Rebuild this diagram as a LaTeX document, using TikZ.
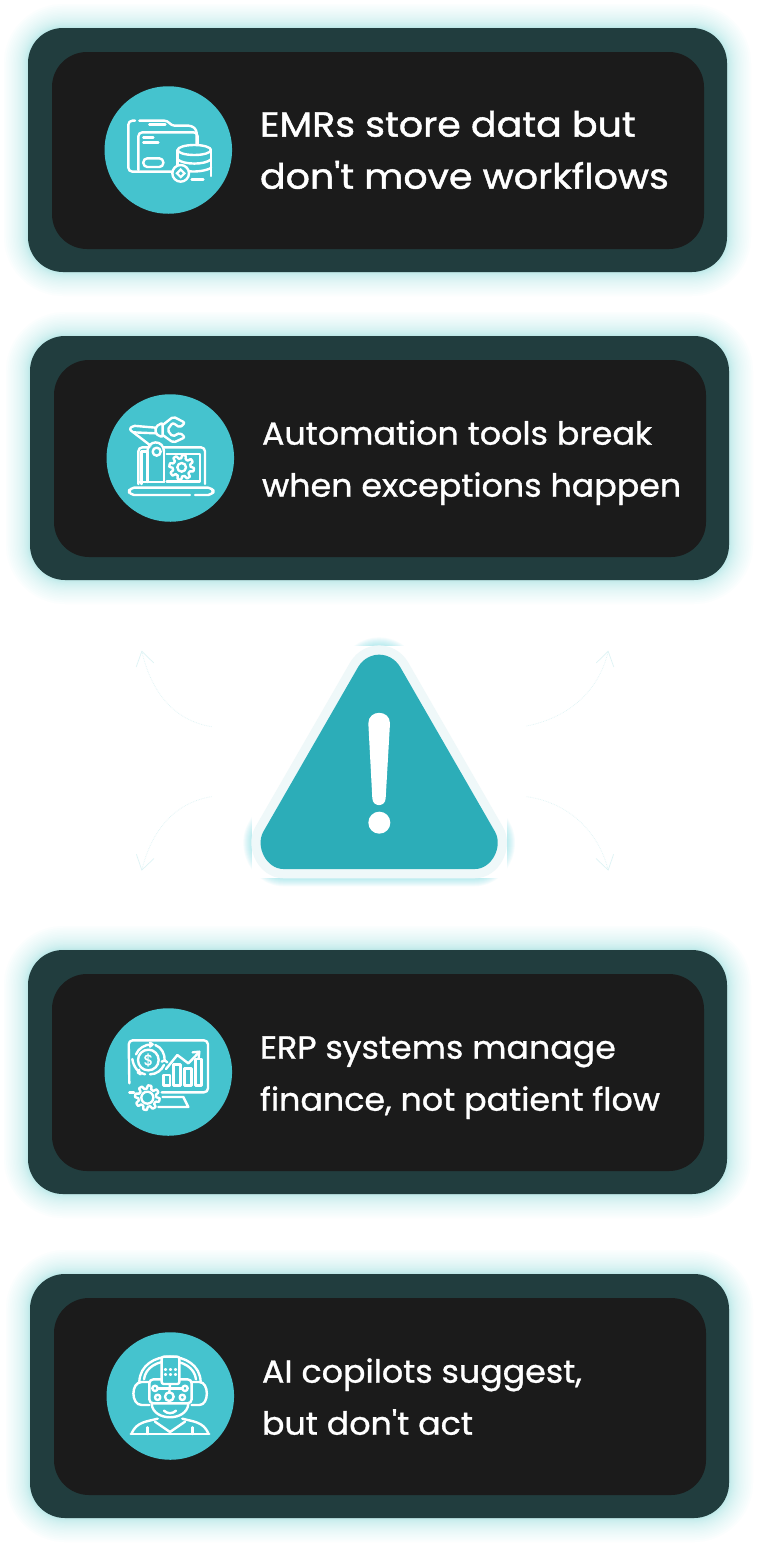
\documentclass[tikz,border=0pt]{standalone}
\usepackage{fontspec}
\usetikzlibrary{arrows.meta}
\newfontfamily\bodyfamily[FakeBold=1.0,FakeStretch=1.04]{Poppins}
\newfontfamily\leadfamily[FakeBold=1.3,FakeStretch=1.085]{Poppins}
\definecolor{outercol}{HTML}{213D3E}
\definecolor{innercol}{HTML}{1B1B1B}
\definecolor{disccol}{HTML}{45C3CE}
\definecolor{trianglecol}{HTML}{2CADB8}
\definecolor{haloedge}{HTML}{EFF8F9}
\definecolor{glowcol}{HTML}{5FD5E0}
\definecolor{ghostcol}{HTML}{DDF3F5}
\tikzset{
  outerbox/.style={rectangle,rounded corners=35pt,fill=outercol,minimum width=699pt,minimum height=244pt,inner sep=0pt,outer sep=0pt},
  innerbox/.style={rectangle,rounded corners=35pt,fill=innercol,minimum width=652pt,minimum height=197pt,inner sep=0pt,outer sep=0pt},
  disc/.style={circle,fill=disccol,minimum size=127.5pt,inner sep=0pt,outer sep=0pt},
  cardtext/.style={anchor=west,align=left,text=white,inner sep=0pt,outer sep=0pt},
  bodytype/.style={font=\bodyfamily\fontsize{32}{52}\selectfont},
  leadtype/.style={font=\leadfamily\fontsize{35}{52}\selectfont},
  glowlayer/.style={fill=glowcol,fill opacity=0.02},
  iconline/.style={draw=white,line width=2.4pt,line cap=round,line join=round},
  iconframe/.style={x=0.33333pt,y=-0.33333pt},
  ghost/.style={draw=ghostcol,line width=0.7pt,densely dotted,-{Straight Barb[length=14pt,width=18pt]}},
}
% a card: name, x offset, y offset, type style, line 1, line 2
\newcommand{\cardat}[6]{%
  \begin{scope}[shift={(#2,#3)}]
    \foreach \g in {1,...,24}{
      \pgfmathsetmacro{\off}{\g*\g/24}
      \fill[glowlayer,rounded corners=35pt+\off pt] (28-\off,28-\off) rectangle (727+\off,272+\off);
    }
    \node[outerbox] (#1outer) at (377.5,150) {};
    \node[innerbox] (#1inner) at (378,150.5) {};
    \node[disc] (#1disc) at (168.3,150) {};
    \node[cardtext,#4] (#1text) at (260,152.7) {\rule{0pt}{30pt}#5\\#6\rule[-10pt]{0pt}{10pt}};
  \end{scope}%
}
\newcommand{\gearshape}[5]{% cx cy base tooth teeth
  \draw[iconline,smooth] plot[samples=121,domain=0:360,variable=\t]
    ({#1+(#3+#4*max(-1,min(1,2.5*sin(#5*\t))))*cos(\t)},{#2+(#3+#4*max(-1,min(1,2.5*sin(#5*\t))))*sin(\t)}) -- cycle;
}
\begin{document}
\begin{tikzpicture}[x=1pt,y=-1pt]
\useasboundingbox (0,0) rectangle (759,1547);
\fill[white] (0,0) rectangle (759,1547);

\cardat{emr}{0}{0}{leadtype}{EMRs store data but}{don't move workflows}
\cardat{auto}{2}{308}{bodytype}{Automation tools break}{when exceptions happen}
\cardat{erp}{0}{922}{bodytype}{ERP systems manage}{finance, not patient flow}
\cardat{ai}{2}{1246}{bodytype}{AI copilots suggest,}{but don't act}

% ---------- folder + database icon
\begin{scope}[shift={(90,70)},iconframe]
  \draw[iconline,rounded corners=4pt] (135,152) -- (115,152) -- (115,305) -- (245,305);
  \draw[iconline,rounded corners=3pt] (148,152) -- (232,152) -- (245,167) -- (305,167) -- (320,180) -- (320,222);
  \draw[iconline] (178,163) -- (226,163);
  \draw[iconline,rounded corners=4pt] (145,300) -- (145,187) -- (323,187) -- (323,222);
  \draw[iconline] (160,202) -- (190,202) (160,218) -- (205,218);
  \draw[iconline,rounded corners=4pt] (160,265) rectangle (220,291);
  \fill[disccol] (263,240) rectangle (363,325);
  \draw[iconline] (263,240) -- (263,300) (363,240) -- (363,318);
  \draw[iconline] (313,240) ellipse [x radius=50,y radius=15];
  \draw[iconline] (263,268) .. controls (280,285) and (346,285) .. (363,268);
  \draw[iconline] (290,303) .. controls (315,307) and (346,303) .. (363,294);
  \draw[iconline] (305,328) -- (340,328);
  \draw[iconline,fill=disccol] (272,310) circle [radius=25];
  \fill[white] (272,294) -- (288,310) -- (272,326) -- (256,310) -- cycle;
  \fill[disccol] (272,304) -- (278,310) -- (272,316) -- (266,310) -- cycle;
\end{scope}

% ---------- robot arm + laptop icon
\begin{scope}[shift={(90,380)},iconframe]
  \draw[iconline,rounded corners=4pt] (145,312) -- (145,202) -- (178,202);
  \draw[iconline,rounded corners=4pt] (222,202) -- (345,202) -- (345,312);
  \draw[iconline] (155,312) -- (155,215) -- (170,215);
  \draw[iconline] (230,222) -- (330,222) -- (330,305) -- (230,305);
  \draw[iconline] (145,306) -- (222,306);
  \draw[iconline] (172,306) -- (172,215);
  \draw[iconline] (222,306) -- (222,215);
  \draw[iconline] (172,215) .. controls (172,178) and (222,178) .. (222,215);
  \draw[iconline] (200,215) circle [radius=12];
  \gearshape{275}{262}{32}{5}{8}
  \draw[iconline] (275,262) circle [radius=13];
  \draw[iconline,rounded corners=5pt] (300,345) -- (117,345) -- (117,323) -- (370,323) -- (370,345) -- (315,345);
  \draw[iconline,rounded corners=2pt] (182,197) -- (118,148) -- (128,137) -- (197,143);
  \draw[iconline] (130,157) -- (197,160);
  \draw[iconline,rounded corners=2pt] (197,140) -- (218,128) -- (218,172) -- (197,162) -- cycle;
  \draw[iconline,rounded corners=2pt] (218,135) -- (250,110) -- (285,128) -- (270,143) -- (248,128) -- (232,150) -- (248,170) -- (270,158) -- (285,172) -- (250,188) -- (218,165);
\end{scope}

% ---------- ERP monitor icon
\begin{scope}[shift={(90,995)},iconframe]
  \draw[iconline,rounded corners=4pt] (118,265) -- (116,136) -- (354,136) -- (354,292) -- (215,292);
  \draw[iconline] (118,292) -- (132,292);
  \draw[iconline] (218,306) -- (280,306) -- (295,336) -- (205,336);
  \gearshape{172}{308}{32}{5}{8}
  \draw[iconline] (172,308) circle [radius=18];
  \draw[iconline] (175,195) circle [radius=31];
  \node[text=white,font=\bodyfamily\fontsize{15}{15}\selectfont,inner sep=0pt] (erpdollar) at (175,195) {\$};
  \draw[iconline] (138,178) .. controls (145,160) and (165,148) .. (185,148);
  \draw[iconline] (196,150) .. controls (215,157) and (225,178) .. (224,196);
  \draw[iconline] (222,210) .. controls (215,225) and (200,238) .. (180,238);
  \draw[iconline] (165,238) .. controls (145,235) and (130,215) .. (127,192);
  \draw[iconline] (180,143) -- (188,148) -- (180,155);
  \draw[iconline] (215,200) -- (224,196) -- (232,202);
  \draw[iconline] (148,224) -- (143,232) -- (152,238);
  \draw[iconline] (220,240) rectangle (240,272);
  \draw[iconline] (250,208) rectangle (272,272);
  \draw[iconline] (283,220) rectangle (305,272);
  \draw[iconline] (316,192) rectangle (335,272);
  \draw[iconline] (228,222) -- (262,180) -- (295,205) -- (327,172);
  \draw[iconline] (308,172) -- (328,170) -- (326,188);
\end{scope}

% ---------- AI copilot icon
\begin{scope}[shift={(90,1320)},iconframe]
  \draw[iconline] (148,185) .. controls (152,85) and (328,85) .. (332,185);
  \draw[iconline] (162,178) .. controls (170,105) and (310,105) .. (318,178);
  \draw[iconline] (178,186) -- (155,186) .. controls (122,186) and (122,255) .. (155,255) -- (178,255);
  \draw[iconline] (305,186) -- (328,186) .. controls (358,186) and (358,255) .. (328,255) -- (305,255);
  \draw[iconline,rounded corners=4pt] (178,250) -- (178,178) -- (305,178) -- (305,250) -- cycle;
  \draw[iconline,fill=disccol,rounded corners=2pt] (215,110) rectangle (268,192);
  \draw[iconline] (225,148) -- (228,148) (240,148) -- (243,148) (255,148) -- (258,148)
                  (225,164) -- (228,164) (240,164) -- (243,164) (255,164) -- (258,164);
  \draw[iconline] (240,192) -- (238,217);
  \draw[iconline] (238,230) circle [radius=13];
  \draw[iconline] (195,205) circle [radius=8] (285,205) circle [radius=8] (203,232) circle [radius=8] (277,232) circle [radius=8];
  \draw[iconline] (205,205) -- (275,205);
  \draw[iconline] (185,252) .. controls (190,305) and (290,305) .. (295,252);
  \draw[iconline] (222,272) .. controls (232,282) and (248,282) .. (258,272);
  \draw[iconline] (122,342) -- (358,342);
  \draw[iconline] (125,340) .. controls (140,305) and (170,305) .. (203,296);
  \draw[iconline] (355,340) .. controls (340,305) and (310,305) .. (277,296);
  \draw[iconline] (195,305) -- (240,336) -- (285,305);
  \draw[iconline] (172,342) -- (172,322) (308,342) -- (308,322);
\end{scope}

% ---------- warning triangle
\begin{scope}[shift={(120,630)},iconframe]
  \def\trianglepath{(715,110) .. controls (745,62) and (810,62) .. (840,110) -- (1125,605) .. controls (1150,650) and (1115,717) .. (1065,717) -- (490,717) .. controls (440,717) and (405,650) .. (430,605) -- cycle}
  \foreach \g in {1,...,8}{
    \draw[draw=glowcol,draw opacity=0.06,line width=18.5pt+2*\g pt,line join=round] \trianglepath;
  }
  \fill[white] (395,48) rectangle (1160,745);
  \draw[draw=haloedge,fill=trianglecol,line width=18.5pt,line join=round] \trianglepath;
  \fill[trianglecol] \trianglepath;
  \fill[white] (745,280) .. controls (745,238) and (810,238) .. (810,280) -- (797,505) .. controls (796,532) and (758,532) .. (757,505) -- cycle;
  \fill[white] (778,578) circle [radius=33];
  \coordinate (gta) at (275,290);
  \coordinate (gtb) at (65,62);
  \coordinate (gtc) at (1220,288);
  \coordinate (gtd) at (1465,62);
  \coordinate (gba) at (275,500);
  \coordinate (gbb) at (65,722);
  \coordinate (gbc) at (1220,500);
  \coordinate (gbd) at (1465,722);
  \draw[ghost] (gta) .. controls (150,270) and (90,170) .. (gtb);
  \draw[ghost] (gtc) .. controls (1360,260) and (1440,170) .. (gtd);
  \draw[ghost] (gba) .. controls (150,520) and (90,620) .. (gbb);
  \draw[ghost] (gbc) .. controls (1360,520) and (1440,620) .. (gbd);
\end{scope}
\end{tikzpicture}
\end{document}
